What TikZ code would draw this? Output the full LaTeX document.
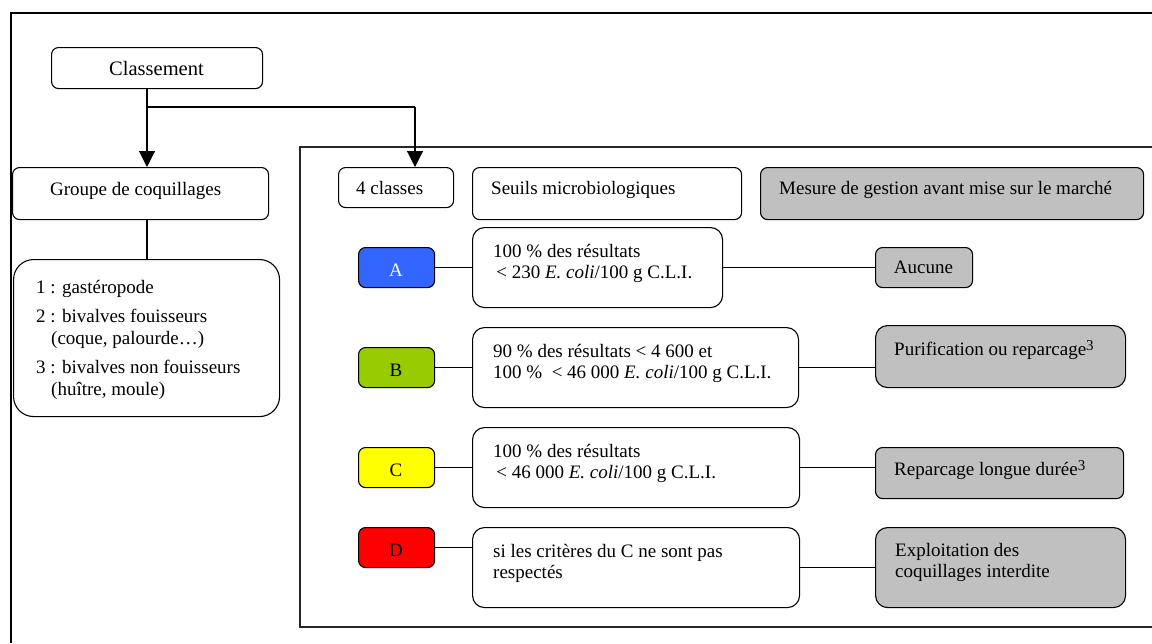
\documentclass[tikz,border=0pt]{standalone}
\usepackage{fontspec}
\setmainfont{Liberation Serif}
\usetikzlibrary{arrows.meta}
\definecolor{boxgray}{RGB}{192,192,192}
\definecolor{clA}{RGB}{51,102,255}
\definecolor{clB}{RGB}{153,204,0}
\definecolor{clC}{RGB}{255,255,0}
\definecolor{clD}{RGB}{255,0,0}
\newcommand\fnt{\fontsize{19}{21.5}\selectfont}
\newcommand\supthree{\raisebox{5pt}{\fontsize{15}{15}\selectfont 3}}
\newcommand\mybox[6]{\node[#6, anchor=north west, minimum width=#4pt, minimum height=#5pt] (#1) at (#2,#3) {};}
\tikzset{
  box/.style={draw, line width=1.1pt, rounded corners=7pt, inner sep=0pt, fill=white},
  tbox/.style={box, rounded corners=12pt},
  gbox/.style={box, fill=boxgray},
  tgbox/.style={tbox, fill=boxgray},
  txt/.style={inner sep=0pt, anchor=west, font=\fnt, text height=13pt, text depth=4pt},
  mtxt/.style={inner sep=0pt, anchor=north west, font=\fnt, align=left},
  letter/.style={inner sep=0pt, font=\fnt},
  conn/.style={line width=1.1pt},
  arr/.style={line width=1.1pt, -{Triangle[width=16pt,length=16pt]}}
}
\begin{document}
\begin{tikzpicture}[x=1pt,y=-1pt]
\useasboundingbox (0,0) rectangle (1152,643);
% frames
\draw[line width=2pt] (11,643) -- (11,13) -- (1152,13);
\draw[line width=1.2pt, black!85] (1152,147) -- (300,147) -- (300,627) -- (1152,627);
% top part
\mybox{cl}{51}{47}{211}{41}{box}
\node[letter, font=\fontsize{20.5}{24}\selectfont] (clT) at (156.5,68) {Classement};
\mybox{gr}{12}{167}{256}{52}{box}
\node[txt] (grT) at (50,191) {Groupe de coquillages};
\mybox{li}{13}{259}{266}{157}{box, rounded corners=20pt}
\node[mtxt] (liT) at (36,278) {\strut 1 : gastéropode\\[8pt]
\strut 2 : bivalves fouisseurs\\
\strut\hspace{15pt}(coque, palourde…)\\[8pt]
\strut 3 : bivalves non fouisseurs\\
\strut\hspace{15pt}(huître, moule)};
\coordinate (j1) at (147,107);
\coordinate (j2) at (415,107);
% headers
\mybox{cls}{338}{167}{115}{40}{box}
\node[txt] (clsT) at (356,190) {4 classes};
\mybox{se}{472}{167}{269}{52}{box}
\node[txt] (seT) at (491,190) {Seuils microbiologiques};
\mybox{me}{760}{167}{383}{52}{gbox}
\node[txt] (meT) at (779,190) {Mesure de gestion avant mise sur le marché};
% connectors top
\draw[conn] (cl.south -| j1) -- (j1) -- (j2);
\draw[arr] (j1) -- (j1 |- gr.north);
\draw[arr] (j2) -- (j2 |- cls.north);
\draw[conn] (gr.south -| j1) -- (li.north -| j1);
% class boxes
\mybox{A}{358}{247}{76}{40}{box, fill=clA}
\node[letter, text=white] (AT) at (396,270) {A};
\mybox{B}{358}{347}{76}{40}{box, fill=clB}
\node[letter] (BT) at (396,370) {B};
\mybox{C}{358}{447}{76}{40}{box, fill=clC}
\node[letter] (CT) at (396,470) {C};
\mybox{D}{358}{527}{76}{40}{box, fill=clD}
\node[letter] (DT) at (396,550) {D};
% thresholds
\mybox{sA}{472}{227}{250}{80}{tbox}
\node[mtxt] (sAT) at (493,242) {\strut 100 \% des résultats\\\strut\,< 230 \textit{E. coli}/100 g C.L.I.};
\mybox{sB}{472}{327}{326}{80}{tbox}
\node[mtxt] (sBT) at (493,342) {\strut 90 \% des résultats < 4 600 et\\\strut 100 \%\ \ < 46 000 \textit{E. coli}/100 g C.L.I.};
\mybox{sC}{472}{427}{327}{80}{tbox}
\node[mtxt] (sCT) at (493,442) {\strut 100 \% des résultats\\\strut\,< 46 000 \textit{E. coli}/100 g C.L.I.};
\mybox{sD}{472}{527}{327}{80}{tbox}
\node[mtxt] (sDT) at (493,542) {\strut si les critères du C ne sont pas\\\strut respectés};
% measures
\mybox{au}{875}{247}{97}{40}{gbox}
\node[txt, anchor=center] (auT) at (923.5,269) {Aucune};
\mybox{pu}{875}{325}{250}{62}{tgbox}
\node[txt] (puT) at (894,351) {Purification ou reparcage\supthree};
\mybox{re}{875}{447}{248}{51}{gbox}
\node[txt] (reT) at (894,471) {Reparcage longue durée\supthree};
\mybox{ex}{875}{527}{250}{80}{tgbox}
\node[mtxt] (exT) at (895,541) {\strut Exploitation des\\\strut coquillages interdite};
% row connectors
\draw[conn] (A.east) -- (sA.west);
\draw[conn] (sA.east) -- (au.west);
\draw[conn] (B.east) -- (sB.west);
\draw[conn] (sB.east) -- (sB.east -| pu.west);
\draw[conn] (C.east) -- (sC.west);
\draw[conn] (sC.east) -- (sC.east -| re.west);
\draw[conn] (D.east) -- (D.east -| sD.west);
\draw[conn] (sD.east) -- (ex.west);
\end{tikzpicture}
\end{document}
